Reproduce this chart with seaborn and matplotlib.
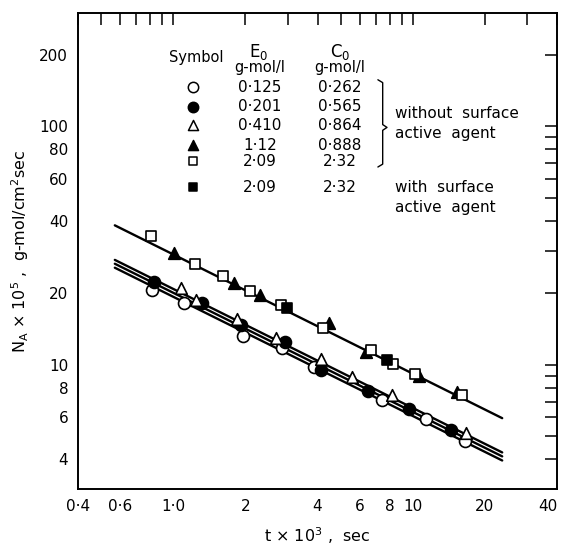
import numpy as np
import pandas as pd
import matplotlib
matplotlib.use("Agg")
import matplotlib.pyplot as plt
from matplotlib.ticker import FixedLocator, FixedFormatter, NullFormatter
import seaborn as sns

sns.set_theme(style="white")
plt.rcParams["font.family"] = ["DejaVu Sans"]
plt.rcParams["mathtext.default"] = "regular"
for k in ["text.color", "axes.labelcolor", "xtick.color", "ytick.color"]:
    plt.rcParams[k] = "black"

t_oc = [0.812, 1.11, 1.96, 2.84, 3.87, 7.45, 11.3, 16.5]
n_oc = [20.5, 18.2, 13.2, 11.7, 9.74, 7.12, 5.93, 4.78]
t_fc = [0.833, 1.32, 1.91, 2.93, 4.12, 6.51, 9.62, 14.4]
n_fc = [22.3, 18.1, 14.6, 12.4, 9.5, 7.78, 6.53, 5.33]
t_ot = [1.08, 1.24, 1.85, 2.68, 4.12, 5.59, 8.20, 16.6]
n_ot = [20.9, 18.7, 15.5, 12.9, 10.6, 8.9, 7.42, 5.16]
t_ft = [1.01, 1.80, 2.30, 4.47, 6.35, 10.6, 15.3]
n_ft = [29.5, 22.1, 19.6, 14.9, 11.3, 9.0, 7.71]
t_os = [0.807, 1.23, 1.62, 2.09, 2.81, 4.23, 6.70, 8.28, 10.2, 16.1]
n_os = [34.6, 26.4, 23.5, 20.4, 17.8, 14.3, 11.5, 10.1, 9.15, 7.47]
t_fs = [2.99, 7.81]
n_fs = [17.3, 10.5]

# Ausgleichsgeraden (Endpunkte)
line_t = [0.57, 23.6]
line_n = {"upper": [38.4, 5.96], "low1": [27.5, 4.28],
          "low2": [26.5, 4.12], "low3": [25.5, 3.96]}

e0 = ["0·125", "0·201", "0·410", "1·12", "2·09", "2·09"]
c0 = ["0·262", "0·565", "0·864", "0·888", "2·32", "2·32"]

series = [("oc", t_oc, n_oc, "o", "white", 74),
          ("fc", t_fc, n_fc, "o", "black", 74),
          ("ot", t_ot, n_ot, "^", "white", 70),
          ("ft", t_ft, n_ft, "^", "black", 70),
          ("os", t_os, n_os, "s", "white", 52),
          ("fs", t_fs, n_fs, "s", "black", 52)]

df = pd.concat([pd.DataFrame({"t": t, "N": n, "serie": k}) for k, t, n, *_ in series])

# --- Plot ---
fig = plt.figure(figsize=(5.65, 5.46), dpi=100)
ax = fig.add_axes([0.138, 0.104, 0.848, 0.873])
ax.set_xscale("log"); ax.set_yscale("log")

for name, yy in line_n.items():
    sns.lineplot(x=line_t, y=yy, color="black", lw=1.7, ax=ax, zorder=2)

for k, t, n, m, fc, s in series:
    sns.scatterplot(data=df[df["serie"] == k], x="t", y="N", marker=m, s=s,
                    facecolor=fc, edgecolor="black", linewidth=1.2, ax=ax, zorder=3)

ax.set_xlim(0.4, 40); ax.set_ylim(3, 300)

x_ticks = [0.4, 0.5, 0.6, 0.7, 0.8, 0.9, 1, 2, 3, 4, 5, 6, 7, 8, 9, 10, 20, 30, 40]
x_labs = ["0·4", "", "0·6", "", "", "", "1·0", "2", "", "4", "", "6", "", "8", "", "10", "20", "", "40"]
y_ticks = [4, 5, 6, 7, 8, 9, 10, 20, 30, 40, 50, 60, 70, 80, 90, 100, 200]
y_labs = ["4", "", "6", "", "8", "", "10", "20", "", "40", "", "60", "", "80", "", "100", "200"]
ax.xaxis.set_major_locator(FixedLocator(x_ticks)); ax.xaxis.set_major_formatter(FixedFormatter(x_labs))
ax.yaxis.set_major_locator(FixedLocator(y_ticks)); ax.yaxis.set_major_formatter(FixedFormatter(y_labs))
ax.xaxis.set_minor_locator(FixedLocator([1, 10])); ax.xaxis.set_minor_formatter(NullFormatter())
ax.yaxis.set_minor_locator(FixedLocator([10, 100])); ax.yaxis.set_minor_formatter(NullFormatter())
ax.tick_params(which="both", direction="in", top=True, right=True, width=1.1, color="black")
ax.tick_params(which="major", length=8.5, labelsize=11, pad=7)
ax.tick_params(which="minor", length=18)
for sp in ax.spines.values():
    sp.set_color("black"); sp.set_linewidth(1.4)
lab40 = ax.get_xticklabels()[-1]
lab40.set_horizontalalignment("right")

ax.set_xlabel("t × 10$^3$ ,  sec", fontsize=11.5, labelpad=8)
ax.set_ylabel("N$_A$ × 10$^5$ ,  g-mol/cm$^2$sec", fontsize=11.5, labelpad=6)

# --- Legende als Tabelle ---
tr = ax.transAxes
ax.text(0.246, 0.905, "Symbol", transform=tr, ha="center", va="center", fontsize=10.5)
ax.text(0.378, 0.917, "E$_0$", transform=tr, ha="center", va="center", fontsize=12)
ax.text(0.547, 0.917, "C$_0$", transform=tr, ha="center", va="center", fontsize=12)
ax.text(0.380, 0.884, "g-mol/l", transform=tr, ha="center", va="center", fontsize=10.5)
ax.text(0.547, 0.884, "g-mol/l", transform=tr, ha="center", va="center", fontsize=10.5)
rows_y = [0.843, 0.802, 0.764, 0.722, 0.688, 0.633]
for i, (k, t, n, m, fc, s) in enumerate(series):
    ax.scatter([0.241], [rows_y[i]], marker=m, s=s * 0.75, facecolor=fc, edgecolor="black",
               linewidth=1.1, transform=tr, clip_on=False, zorder=4)
    ax.text(0.380, rows_y[i], e0[i], transform=tr, ha="center", va="center", fontsize=11)
    ax.text(0.547, rows_y[i], c0[i], transform=tr, ha="center", va="center", fontsize=11)
ax.plot([0.626, 0.636, 0.636, 0.645, 0.636, 0.636, 0.626],
        [0.859, 0.853, 0.765, 0.759, 0.753, 0.682, 0.676], color="black", lw=1, transform=tr)
ax.text(0.662, 0.789, "without  surface", transform=tr, ha="left", va="center", fontsize=11)
ax.text(0.662, 0.747, "active  agent", transform=tr, ha="left", va="center", fontsize=11)
ax.text(0.662, 0.632, "with  surface", transform=tr, ha="left", va="center", fontsize=11)
ax.text(0.662, 0.592, "active  agent", transform=tr, ha="left", va="center", fontsize=11)

plt.savefig("out.png", dpi=100)
